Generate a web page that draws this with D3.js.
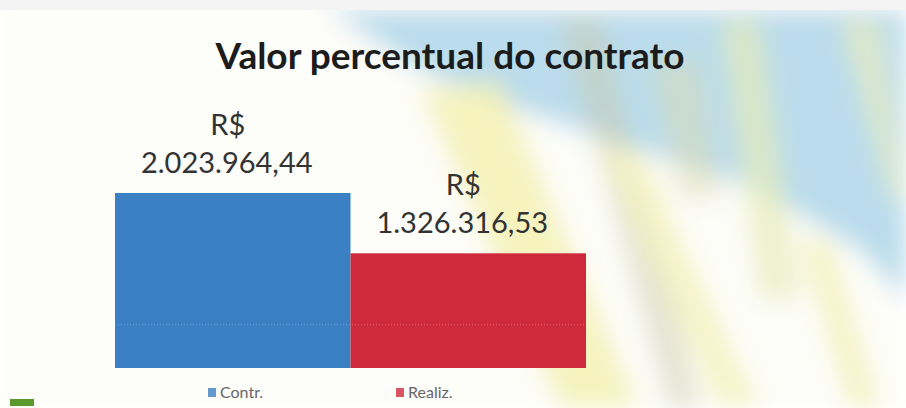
<!DOCTYPE html>
<html>
<head>
<meta charset="utf-8">
<script src="https://cdn.jsdelivr.net/npm/d3@7"></script>
<style>
  body { margin: 0; background: #fff; }
  svg { display: block; }
</style>
</head>
<body>
<svg id="chart" width="906" height="408"></svg>
<script>
const categories = ['Contr.', 'Realiz.'];
const values = [2023964.44, 1326316.53];
const valueLabels = ['2.023.964,44', '1.326.316,53'];
const colors = ['#3a80c2', '#cf2a3c'];
const title = 'Valor percentual do contrato';

const svg = d3.select('#chart');
const defs = svg.append('defs');

// soft blur for the slide background streaks
defs.append('filter').attr('id', 'blur')
  .attr('x', '-20%').attr('y', '-20%').attr('width', '140%').attr('height', '140%')
  .append('feGaussianBlur').attr('stdDeviation', 12);

const bg = svg.append('g').attr('filter', 'url(#blur)');
bg.append('rect').attr('width', 906).attr('height', 408).attr('fill', '#fdfdf9');
// light blue sky at top right
bg.append('path').attr('d', 'M330,10 L906,10 L906,300 L860,250 L760,190 L640,150 L520,110 L420,70 Z')
  .attr('fill', '#b3d8ea').attr('opacity', 0.9);
// pale yellow / grey streaks
bg.append('path').attr('d', 'M420,90 L500,80 L640,408 L560,408 Z').attr('fill', '#f4f0b0').attr('opacity', 0.8);
bg.append('path').attr('d', 'M560,20 L600,20 L700,408 L670,408 Z').attr('fill', '#c9c7a8').attr('opacity', 0.5);
bg.append('path').attr('d', 'M600,150 L640,150 L760,408 L720,408 Z').attr('fill', '#f3f2c0').attr('opacity', 0.85);
bg.append('path').attr('d', 'M720,20 L760,20 L800,300 L760,300 Z').attr('fill', '#e6ebb8').attr('opacity', 0.7);
bg.append('path').attr('d', 'M800,240 L830,240 L880,408 L850,408 Z').attr('fill', '#f2f0b4').attr('opacity', 0.8);
bg.append('path').attr('d', 'M840,20 L880,20 L906,200 L890,200 Z').attr('fill', '#e9ecbd').attr('opacity', 0.7);
bg.append('path').attr('d', 'M650,60 L700,60 L720,200 L680,200 Z').attr('fill', '#dcd9b0').attr('opacity', 0.5);

// faint top strip of the photo
svg.append('rect').attr('width', 906).attr('height', 10).attr('fill', '#f4f4f4');

const x = d3.scaleBand().domain(categories).range([115, 586]).padding(0);
const y = d3.scaleLinear().domain([0, d3.max(values)]).range([368, 193]);

svg.append('text')
  .attr('x', 450).attr('y', 69)
  .attr('text-anchor', 'middle')
  .attr('font-family', 'Lato, "Open Sans", sans-serif')
  .attr('font-weight', 'bold')
  .attr('font-size', 37)
  .attr('fill', '#1c1c1c')
  .text(title);

svg.selectAll('rect.bar')
  .data(values)
  .join('rect')
  .attr('class', 'bar')
  .attr('x', (d, i) => x(categories[i]))
  .attr('y', d => y(d))
  .attr('width', x.bandwidth())
  .attr('height', d => y(0) - y(d))
  .attr('fill', (d, i) => colors[i]);

// faint gridline showing through the bars
svg.append('line')
  .attr('x1', x.range()[0]).attr('x2', x.range()[1])
  .attr('y1', y(500000)).attr('y2', y(500000))
  .attr('stroke', '#ffffff').attr('stroke-opacity', 0.3)
  .attr('stroke-dasharray', '1,2');

const labels = svg.selectAll('g.label')
  .data(values)
  .join('g')
  .attr('class', 'label')
  .attr('font-family', 'Lato, "Open Sans", sans-serif')
  .attr('font-size', 29)
  .attr('fill', '#333')
  .attr('text-anchor', 'middle');

labels.append('text')
  .attr('x', (d, i) => x(categories[i]) + x.bandwidth() / 2 - 5)
  .attr('y', d => y(d) - 58)
  .text('R$');
labels.append('text')
  .attr('x', (d, i) => x(categories[i]) + x.bandwidth() / 2 - 6)
  .attr('y', d => y(d) - 20)
  .text((d, i) => valueLabels[i]);

// legend
const legend = svg.selectAll('g.legend')
  .data(categories)
  .join('g')
  .attr('class', 'legend')
  .attr('transform', (d, i) => `translate(${[208, 396][i]},388)`);
legend.append('rect').attr('width', 8).attr('height', 9).attr('fill', (d, i) => colors[i]).attr('opacity', 0.8);
legend.append('text')
  .attr('x', 12).attr('y', 9.5)
  .attr('font-family', 'Lato, "Open Sans", sans-serif')
  .attr('font-size', 16)
  .attr('fill', '#666')
  .text(d => d);

// little green mark at the bottom left of the photo
svg.append('rect').attr('x', 10).attr('y', 399).attr('width', 24).attr('height', 7).attr('fill', '#5a9a2c');
</script>
</body>
</html>
